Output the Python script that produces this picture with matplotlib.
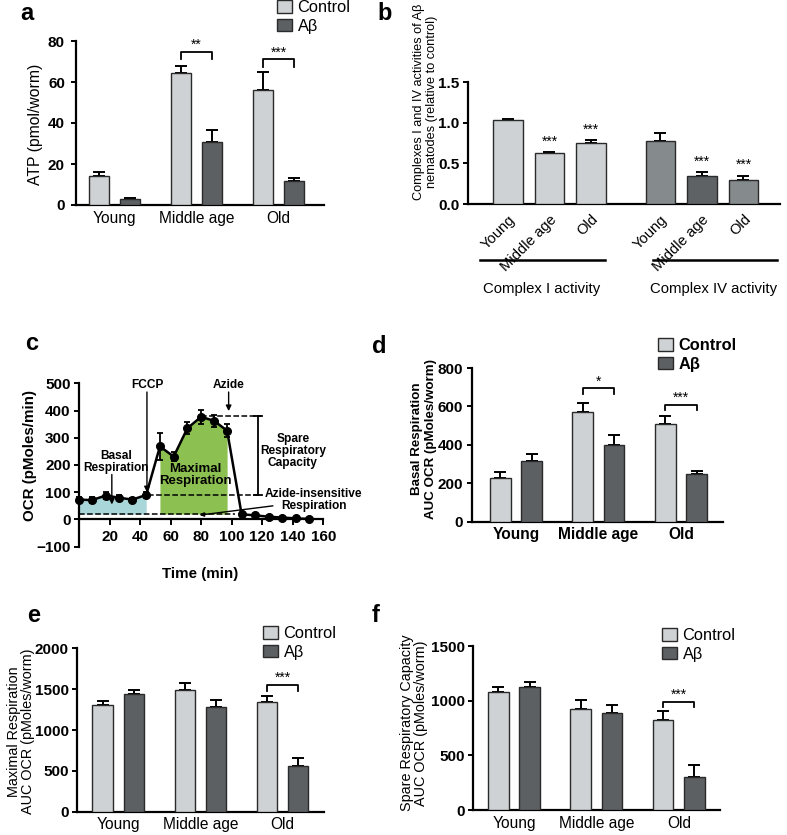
import numpy as np
import matplotlib
matplotlib.use('Agg')
import matplotlib.pyplot as plt
from matplotlib.patches import Patch

plt.rcParams['font.family'] = ['Liberation Sans', 'DejaVu Sans']

# ---------------- data ----------------
ages = ['Young', 'Middle age', 'Old']

atp_ctrl = [14, 64.5, 56]
atp_ctrl_err = [2, 3.5, 9]
atp_ab = [3, 30.5, 11.5]
atp_ab_err = [0.6, 6, 1.7]

cx_labels = ['Young', 'Middle age', 'Old', 'Young', 'Middle age', 'Old']
cx_vals = [1.03, 0.63, 0.75, 0.77, 0.35, 0.30]
cx_err = [0.01, 0.01, 0.035, 0.1, 0.04, 0.05]

t_min = [0, 8.5, 17.5, 26, 35, 44, 53, 62, 71, 80, 88.5, 97, 106.5, 115.5, 124.5, 133, 142, 150.5]
ocr = [73, 71, 88, 80, 73, 90, 268, 231, 335, 377, 362, 326, 19, 15, 10, 7, 4, 2]
ocr_err = [10, 12, 14, 9, 7, 12, 50, 18, 22, 25, 22, 25, 3, 3, 2, 2, 2, 2]

basal_ctrl = [230, 570, 510]
basal_ctrl_err = [30, 50, 40]
basal_ab = [315, 400, 248]
basal_ab_err = [35, 50, 18]

max_ctrl = [1310, 1490, 1340]
max_ctrl_err = [50, 80, 80]
max_ab = [1435, 1285, 555]
max_ab_err = [50, 80, 100]

spare_ctrl = [1080, 920, 825]
spare_ctrl_err = [45, 90, 85]
spare_ab = [1125, 885, 305]
spare_ab_err = [50, 75, 105]

CTRL = '#cfd2d4'
ABETA = '#5c6063'
EDGE = '#2a2a2a'

W, H = 787, 835
fig = plt.figure(figsize=(W / 100, H / 100), dpi=100)


def px_axes(x0, y0, x1, y1):
    return fig.add_axes([x0 / W, 1 - y1 / H, (x1 - x0) / W, (y1 - y0) / H])


def style(ax, tick_bold=True, pad=2.5):
    for s in ['top', 'right']:
        ax.spines[s].set_visible(False)
    for s in ['left', 'bottom']:
        ax.spines[s].set_linewidth(1.6)
    ax.tick_params(axis='y', length=3.5, width=1.4, labelsize=11, pad=pad)
    if tick_bold:
        for lab in ax.get_yticklabels():
            lab.set_fontweight('bold')


def bracket(ax, x0, x1, y, h, stars):
    ax.plot([x0, x0, x1, x1], [y - h, y, y, y - h], color='k', lw=1.3, clip_on=False)
    ax.text((x0 + x1) / 2, y, stars, ha='center', va='bottom', fontsize=10, clip_on=False)


def grouped(ax, ctrl, ctrl_err, ab, ab_err, ymax, ystep, xlim, bold=False, pad=2.5):
    x = np.arange(len(ctrl))
    off, w = 0.19, 0.25
    ax.bar(x - off, ctrl, w, color=CTRL, edgecolor=EDGE, lw=1.0, zorder=3)
    ax.bar(x + off, ab, w, color=ABETA, edgecolor=EDGE, lw=1.0, zorder=3)
    ax.errorbar(x - off, ctrl, yerr=[np.zeros(3), ctrl_err], fmt='none', ecolor='k',
                elinewidth=1.4, capsize=4, capthick=1.4, zorder=2)
    ax.errorbar(x + off, ab, yerr=[np.zeros(3), ab_err], fmt='none', ecolor='k',
                elinewidth=1.4, capsize=4, capthick=1.4, zorder=2)
    ax.set_xlim(*xlim)
    ax.set_ylim(0, ymax)
    ax.set_yticks(np.arange(0, ymax + 1, ystep))
    ax.set_xticks(x)
    ax.set_xticklabels(ages, fontsize=11.2, fontweight='bold' if bold else 'normal')
    ax.tick_params(axis='x', length=0, pad=4)
    style(ax, pad=pad)
    return x, off


def legend(x, y, bold=False):
    handles = [Patch(facecolor=CTRL, edgecolor=EDGE, lw=1),
               Patch(facecolor=ABETA, edgecolor=EDGE, lw=1)]
    fig.legend(handles, ['Control', 'Aβ'], loc='upper left',
               bbox_to_anchor=(x / W, 1 - y / H), frameon=False,
               prop={'size': 11.8, 'weight': 'bold' if bold else 'normal'},
               handlelength=0.9, handleheight=0.8, handletextpad=0.35,
               labelspacing=0.22, borderpad=0, borderaxespad=0)


# ---------------- panel a ----------------
ax = px_axes(76, 41, 324, 205)
x, off = grouped(ax, atp_ctrl, atp_ctrl_err, atp_ab, atp_ab_err, 80, 20, (-0.47, 2.555), pad=4.5)
ax.set_ylabel('ATP (pmol/worm)', fontsize=11.3)
ax.yaxis.set_label_coords(-0.135, 0.49)
bracket(ax, 1 - off, 1 + off, 74.5, 3.5, '**')
bracket(ax, 2 - off, 2 + off, 71, 3.5, '***')
legend(277, 0)

# ---------------- panel b ----------------
ax = px_axes(468, 82, 780, 204)
xb = [0, 1, 2, 3.675, 4.675, 5.675]
cx_colors = [CTRL, CTRL, CTRL, '#858a8d', '#5e6265', '#858a8d']
ax.bar(xb, cx_vals, 0.7, color=cx_colors, edgecolor=EDGE, lw=1.0, zorder=3)
ax.errorbar(xb, cx_vals, yerr=[np.zeros(6), cx_err], fmt='none', ecolor='k',
            elinewidth=1.4, capsize=4, capthick=1.4, zorder=2)
for i in [1, 2, 4, 5]:
    ax.text(xb[i], cx_vals[i] + cx_err[i] + 0.04, '***', ha='center', va='bottom', fontsize=10)
ax.set_xlim(-0.964, 6.555)
ax.set_ylim(0, 1.5)
ax.set_yticks([0, 0.5, 1.0, 1.5])
ax.set_yticklabels(['0.0', '0.5', '1.0', '1.5'])
ax.set_xticks(xb)
ax.set_xticklabels(cx_labels, rotation=45, ha='right', rotation_mode='anchor', fontsize=10.6)
ax.tick_params(axis='x', length=0, pad=6)
style(ax)
ax.set_ylabel('Complexes I and IV activities of Aβ\nnematodes (relative to control)', fontsize=9.2)
ax.yaxis.set_label_coords(-0.095, 0.836)
tr = ax.get_xaxis_transform()
ax.plot([-0.675, 2.337], [-0.459, -0.459], color='k', lw=1.8, transform=tr, clip_on=False)
ax.plot([3.494, 6.482], [-0.459, -0.459], color='k', lw=1.8, transform=tr, clip_on=False)
ax.text(0.819, -0.70, 'Complex I activity', ha='center', va='center', fontsize=10.7, transform=tr)
ax.text(4.96, -0.70, 'Complex IV activity', ha='center', va='center', fontsize=10.7, transform=tr)

# ---------------- panel c ----------------
ax = px_axes(79, 383.3, 323.3, 546.7)
t = np.array(t_min)
v = np.array(ocr)
ax.fill_between(t[:6], 20, v[:6], color='#a9d6d8', lw=0, zorder=1)
ax.fill_between(t[6:12], 20, v[6:12], color='#8cc152', lw=0, zorder=1)
ax.errorbar(t, v, yerr=ocr_err, color='k', lw=1.8, marker='o', ms=5.5, ecolor='k',
            elinewidth=1.3, capsize=2.5, capthick=1.3, zorder=4, clip_on=False)
ax.plot([0, 102], [20, 20], ls='--', color='k', lw=1.1, zorder=2)
ax.plot([45, 119], [90, 90], ls='--', color='k', lw=1.1, zorder=2)
ax.plot([80, 119], [380, 380], ls='--', color='k', lw=1.1, zorder=2)
ax.plot([117, 117], [90, 380], color='k', lw=1.3)
ax.plot([114.5, 120], [90, 90], color='k', lw=1.3)
ax.plot([114.5, 120], [380, 380], color='k', lw=1.3)
ax.set_xlim(0, 160)
ax.set_ylim(-100, 500)
ax.spines['bottom'].set_position(('data', 0))
ax.spines['bottom'].set_bounds(0, 160)
ax.set_xticks(np.arange(20, 161, 20))
ax.set_yticks(np.arange(-100, 501, 100))
ax.tick_params(axis='x', length=4, width=1.4, labelsize=11)
style(ax)
for lab in ax.get_xticklabels():
    lab.set_fontweight('bold')
ax.set_ylabel('OCR (pMoles/min)', fontsize=10.9, fontweight='bold')
ax.yaxis.set_label_coords(-0.173, 0.557)
ax.text(0.495, -0.167, 'Time (min)', transform=ax.transAxes, ha='center', va='center',
        fontsize=10.9, fontweight='bold')
ann = dict(fontsize=8.6, fontweight='bold', ha='center', va='center', linespacing=1.0)
arr = dict(arrowstyle='-|>', color='k', lw=1.0, mutation_scale=8, shrinkA=0, shrinkB=0)
ax.text(44.5, 493, 'FCCP', **ann)
ax.annotate('', xy=(44.5, 100), xytext=(44.5, 468), arrowprops=arr)
ax.text(98, 493, 'Azide', **ann)
ax.annotate('', xy=(98, 398), xytext=(98, 468), arrowprops=arr)
ax.text(24.5, 210, 'Basal\nRespiration', **ann)
ax.annotate('', xy=(21.5, 55), xytext=(21.5, 165), arrowprops=arr)
ax.text(76, 165, 'Maximal\nRespiration', **dict(ann, fontsize=9.5))
ax.text(140, 253, 'Spare\nRespiratory\nCapacity', **ann)
ax.text(153.7, 72, 'Azide-insensitive\nRespiration', clip_on=False, **ann)
ax.annotate('', xy=(79, 16), xytext=(127, 50), arrowprops=dict(arr, mutation_scale=6))

# ---------------- panel d ----------------
ax = px_axes(471.7, 368, 723, 521.7)
x, off = grouped(ax, basal_ctrl, basal_ctrl_err, basal_ab, basal_ab_err, 800, 200,
                 (-0.537, 2.51), bold=True)
ax.set_ylabel('Basal Respiration\nAUC OCR (pMoles/worm)', fontsize=9.6, fontweight='bold')
ax.yaxis.set_label_coords(-0.139, 0.538)
bracket(ax, 1 - off, 1 + off, 694, 28, '*')
bracket(ax, 2 - off, 2 + off, 607, 28, '***')
legend(658, 338, bold=True)

# ---------------- panel e ----------------
ax = px_axes(77.3, 648.3, 324, 811.7)
x, off = grouped(ax, max_ctrl, max_ctrl_err, max_ab, max_ab_err, 2000, 500, (-0.50, 2.506))
ax.set_ylabel('Maximal Respiration\nAUC OCR (pMoles/worm)', fontsize=10.4, linespacing=1.05)
ax.yaxis.set_label_coords(-0.171, 0.49)
bracket(ax, 2 - off, 2 + off, 1551, 70, '***')
legend(263, 626)

# ---------------- panel f ----------------
ax = px_axes(473.3, 646, 720, 810)
x, off = grouped(ax, spare_ctrl, spare_ctrl_err, spare_ab, spare_ab_err, 1500, 500, (-0.494, 2.5))
ax.set_ylabel('Spare Respiratory Capacity\nAUC OCR (pMoles/worm)', fontsize=10.4, linespacing=1.05)
ax.yaxis.set_label_coords(-0.182, 0.53)
bracket(ax, 2 - off, 2 + off, 990, 50, '***')
legend(662, 628)

# panel letters
for letter, px, py in [('a', 20, 20), ('b', 377, 20), ('c', 25, 350),
                       ('d', 372, 353), ('e', 27, 622), ('f', 372, 622)]:
    fig.text(px / W, 1 - py / H, letter, fontsize=17, fontweight='bold', va='baseline')

fig.savefig('out.png', dpi=100)
